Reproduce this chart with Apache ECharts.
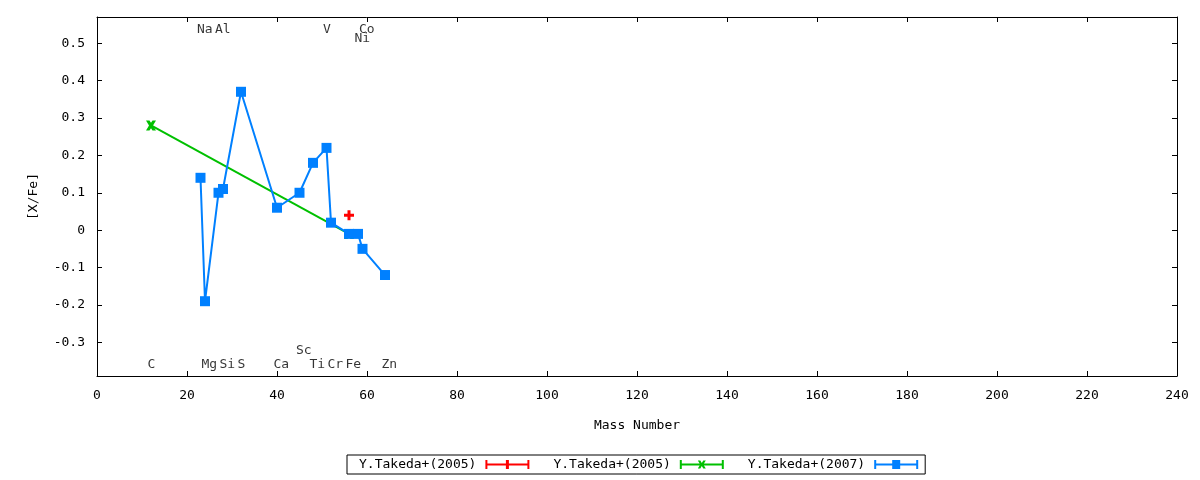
<!DOCTYPE html>
<html>
<head>
<meta charset="utf-8">
<script src="https://cdn.jsdelivr.net/npm/echarts@6/dist/echarts.min.js"></script>
<style>html,body{margin:0;padding:0;background:#fff}#c{width:1200px;height:480px}</style>
</head>
<body>
<div id="c"></div>
<script>
// ---- data ----
var seriesNames = ['Y.Takeda+(2005)', 'Y.Takeda+(2005)', 'Y.Takeda+(2007)'];
var redMass = [56];
var redVal = [0.04];
var greenMass = [12, 56];
var greenVal = [0.28, -0.01];
var blueMass = [23, 24, 27, 28, 32, 40, 45, 48, 51, 52, 56, 58, 59, 64];
var blueVal = [0.14, -0.19, 0.10, 0.11, 0.37, 0.06, 0.10, 0.18, 0.22, 0.02, -0.01, -0.01, -0.05, -0.12];
var labelNames = ['C', 'Na', 'Mg', 'Al', 'Si', 'S', 'Ca', 'Sc', 'Ti', 'V', 'Cr', 'Fe', 'Co', 'Ni', 'Zn'];
var labelMass = [12, 23, 24, 27, 28, 32, 40, 45, 48, 51, 52, 56, 59, 58, 64];
var labelY = [-0.36, 0.537, -0.36, 0.537, -0.36, -0.36, -0.36, -0.323, -0.36, 0.537, -0.36, -0.36, 0.537, 0.513, -0.36];
var xTicks = [0, 20, 40, 60, 80, 100, 120, 140, 160, 180, 200, 220, 240];
var yTicks = [-0.3, -0.2, -0.1, 0, 0.1, 0.2, 0.3, 0.4, 0.5];

// ---- styling ----
var FONT = 'DejaVu Sans Mono';
var colors = ['#ff0000', '#00c000', '#0080ff'];
var plusPath = 'path://M3.5,0 H6.5 V3.5 H10 V6.5 H6.5 V10 H3.5 V6.5 H0 V3.5 H3.5 Z';
var xPath = 'path://M0,0 L3.5,0 L5,2.2 L6.5,0 L10,0 L7,5 L10,10 L6.5,10 L5,7.8 L3.5,10 L0,10 L3,5 Z';
var beam = 'M0,0 H2 V3.5 H42 V0 H44 V9 H42 V5.5 H2 V9 H0 Z';
var legendIcons = [
  'path://' + beam + ' M20.5,0 H23.5 V9 H20.5 Z',
  'path://' + beam + ' M18,0.5 L20.5,0.5 L22,3 L23.5,0.5 L26,0.5 L23.5,4.5 L26,8.5 L23.5,8.5 L22,6 L20.5,8.5 L18,8.5 L20.5,4.5 Z',
  'path://' + beam + ' M18,0 H26 V9 H18 Z'
];
var ids = ['#a', '#b', '#c'];

function pairs(xs, ys) { return xs.map(function (x, i) { return [x, ys[i]]; }); }

function isTick(v) {
  for (var i = 0; i < yTicks.length; i++) if (Math.abs(v - yTicks[i]) < 1e-6) return true;
  return false;
}

var xAxisBase = {
  type: 'value', min: xTicks[0], max: xTicks[xTicks.length - 1], interval: 20,
  axisLine: { show: true, onZero: false, lineStyle: { color: '#000', width: 1 } },
  axisTick: { show: true, inside: true, length: 5, lineStyle: { color: '#000' } },
  splitLine: { show: false }
};
var yAxisBase = {
  type: 'value', min: -0.39, max: 0.57, splitNumber: 10,
  axisLine: { show: true, onZero: false, lineStyle: { color: '#000', width: 1 } },
  axisTick: { show: true, inside: true, length: 5, lineStyle: { color: '#000' } },
  splitLine: { show: false }
};

var chart = echarts.init(document.getElementById('c'));
chart.setOption({
  animation: false,
  textStyle: { fontFamily: FONT },
  grid: { left: 97, right: 23, top: 17, bottom: 104, containLabel: false },
  xAxis: [
    Object.assign({}, xAxisBase, {
      position: 'bottom',
      name: 'Mass Number', nameLocation: 'middle', nameGap: 43,
      nameTextStyle: { fontFamily: FONT, fontSize: 13, color: '#000' },
      axisLabel: { show: true, margin: 13, fontFamily: FONT, fontSize: 13, color: '#000' }
    }),
    Object.assign({}, xAxisBase, { position: 'top', axisLabel: { show: false } })
  ],
  yAxis: [
    Object.assign({}, yAxisBase, {
      position: 'left',
      name: '[X/Fe]', nameLocation: 'middle', nameGap: 57, nameRotate: 90,
      nameTextStyle: { fontFamily: FONT, fontSize: 13, color: '#000' },
      axisLabel: {
        show: true, margin: 12, fontFamily: FONT, fontSize: 13, color: '#000',
        formatter: function (v) { return isTick(v) ? String(Math.round(v * 10) / 10) : ''; }
      }
    }),
    Object.assign({}, yAxisBase, { position: 'right', axisLabel: { show: false } })
  ],
  legend: {
    left: 347, top: 455,
    orient: 'horizontal',
    align: 'right',
    itemWidth: 44, itemHeight: 9, itemGap: 24,
    padding: [3, 7, 3, 12],
    borderColor: '#000', borderWidth: 1, borderRadius: 0,
    selectedMode: false,
    textStyle: { fontFamily: FONT, fontSize: 13, color: '#000', padding: [2, 4, 0, 0] },
    itemStyle: { borderWidth: 0 },
    formatter: function (n) { return n.split('#')[0]; },
    data: seriesNames.map(function (n, i) { return { name: n + ids[i], icon: legendIcons[i] }; })
  },
  series: [
    {
      name: seriesNames[0] + ids[0], type: 'line', data: pairs(redMass, redVal),
      symbol: plusPath, symbolSize: 10, showSymbol: true,
      lineStyle: { color: colors[0], width: 2 },
      itemStyle: { color: colors[0], borderWidth: 0 },
      emphasis: { disabled: true }, z: 2
    },
    {
      name: seriesNames[1] + ids[1], type: 'line', data: pairs(greenMass, greenVal),
      symbol: xPath, symbolSize: 10, showSymbol: true,
      lineStyle: { color: colors[1], width: 2 },
      itemStyle: { color: colors[1], borderWidth: 0 },
      emphasis: { disabled: true }, z: 3
    },
    {
      name: seriesNames[2] + ids[2], type: 'line', data: pairs(blueMass, blueVal),
      symbol: 'rect', symbolSize: 10, showSymbol: true,
      lineStyle: { color: colors[2], width: 2 },
      itemStyle: { color: colors[2], borderWidth: 0 },
      emphasis: { disabled: true }, z: 4
    },
    {
      name: 'elements', type: 'scatter',
      data: labelNames.map(function (n, i) { return { name: n, value: [labelMass[i], labelY[i]] }; }),
      symbolSize: 1, itemStyle: { color: 'rgba(0,0,0,0)' },
      silent: true, z: 5,
      label: {
        show: true, formatter: '{b}', position: [-3, 0.5],
        align: 'left', verticalAlign: 'middle',
        fontFamily: FONT, fontSize: 13, color: '#000'
      },
      emphasis: { disabled: true }
    }
  ]
});
</script>
</body>
</html>
